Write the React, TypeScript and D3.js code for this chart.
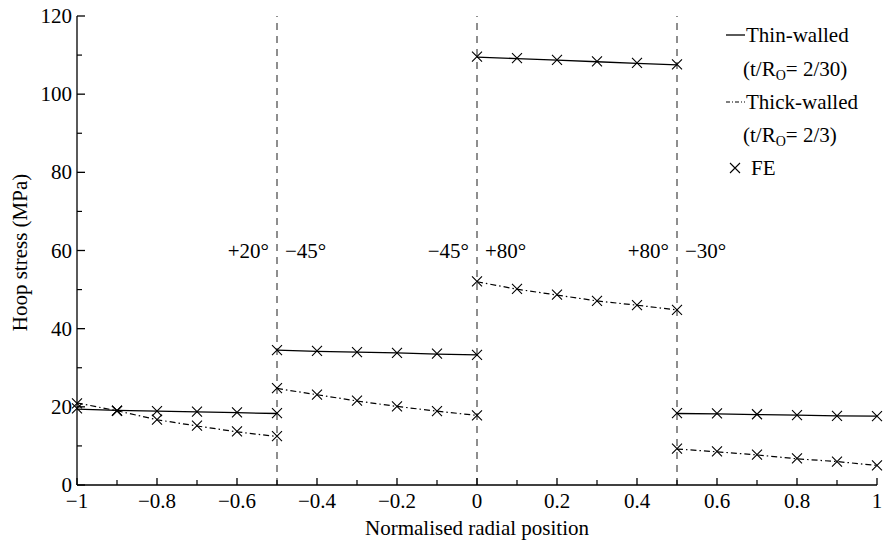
import React from "react";
import * as d3 from "d3";

const positions = [-1, -0.9, -0.8, -0.7, -0.6, -0.5, -0.5, -0.4, -0.3, -0.2, -0.1, 0, 0, 0.1, 0.2, 0.3, 0.4, 0.5, 0.5, 0.6, 0.7, 0.8, 0.9, 1];
const segmentIds = [0, 0, 0, 0, 0, 0, 1, 1, 1, 1, 1, 1, 2, 2, 2, 2, 2, 2, 3, 3, 3, 3, 3, 3];
const thinWalled = [19.4, 19.1, 18.9, 18.7, 18.5, 18.3, 34.5, 34.2, 34.0, 33.8, 33.5, 33.3, 109.5, 109.1, 108.7, 108.3, 107.9, 107.5, 18.3, 18.2, 18.0, 17.9, 17.7, 17.6];
const thickWalled = [21.0, 19.0, 16.7, 15.1, 13.6, 12.4, 24.7, 23.1, 21.5, 20.1, 18.9, 17.8, 52.0, 50.1, 48.6, 47.1, 46.0, 44.8, 9.2, 8.5, 7.7, 6.7, 6.0, 5.0];
const feThin = [19.6, 19.0, 18.9, 18.8, 18.6, 18.4, 34.5, 34.3, 34.0, 33.8, 33.6, 33.3, 109.6, 109.2, 108.8, 108.4, 108.0, 107.6, 18.4, 18.3, 18.1, 17.9, 17.7, 17.6];
const feThick = [20.9, 19.0, 16.7, 15.2, 13.7, 12.5, 24.8, 23.1, 21.6, 20.1, 18.9, 17.8, 52.1, 50.2, 48.7, 47.1, 46.0, 44.8, 9.3, 8.6, 7.8, 6.8, 6.0, 5.0];
const interfaces = [-0.5, 0, 0.5];
const angleLabelsLeft = ["+20°", "−45°", "+80°"];
const angleLabelsRight = ["−45°", "+80°", "−30°"];
const xMajorTicks = [-1, -0.8, -0.6, -0.4, -0.2, 0, 0.2, 0.4, 0.6, 0.8, 1];
const xTickLabels = ["−1", "−0.8", "−0.6", "−0.4", "−0.2", "0", "0.2", "0.4", "0.6", "0.8", "1"];
const xMinorTicks = [-0.9, -0.7, -0.5, -0.3, -0.1, 0.1, 0.3, 0.5, 0.7, 0.9];
const yMajorTicks = [0, 20, 40, 60, 80, 100, 120];
const yMinorTicks = [10, 30, 50, 70, 90, 110];

const FONT = "Liberation Serif";
const FS = "21px";

export default function App() {
  const W = 884, H = 544;
  const x = d3.scaleLinear().domain([-1, 1]).range([77, 877]);
  const y = d3.scaleLinear().domain([0, 120]).range([485, 16]);

  const segs = [0, 1, 2, 3];
  const idx = (s: number) => positions.map((_, i) => i).filter((i) => segmentIds[i] === s);
  const thinLine = d3.line<number>().x((i) => x(positions[i])).y((i) => y(thinWalled[i]));
  const thickLine = d3.line<number>().x((i) => x(positions[i])).y((i) => y(thickWalled[i]));

  const cross = (cx: number, cy: number, k: string) => (
    <path key={k} d={`M${cx - 5},${cy - 5}L${cx + 5},${cy + 5}M${cx - 5},${cy + 5}L${cx + 5},${cy - 5}`} stroke="#000" strokeWidth={1.1} fill="none" />
  );

  return (
    <svg width={W} height={H} style={{ position: "absolute", left: 0, top: 0, background: "#fff" }} fontFamily={FONT} fontSize={FS}>
      {interfaces.map((v, i) => (
        <line key={"if" + i} x1={x(v)} x2={x(v)} y1={y(0)} y2={y(120)} stroke="#444" strokeWidth={1.2} strokeDasharray="7,6" />
      ))}
      <line x1={x(-1)} x2={x(-1)} y1={y(0)} y2={y(120)} stroke="#000" strokeWidth={1.3} />
      <line x1={x(-1)} x2={x(1)} y1={y(0)} y2={y(0)} stroke="#000" strokeWidth={1.3} />
      {yMajorTicks.map((t) => (
        <g key={"ym" + t}>
          <line x1={x(-1)} x2={x(-1) + 8} y1={y(t)} y2={y(t)} stroke="#000" strokeWidth={1.3} />
          <text x={x(-1) - 5} y={y(t) + 7} textAnchor="end" fontFamily={FONT} fontSize={FS}>{t}</text>
        </g>
      ))}
      {yMinorTicks.map((t) => (
        <line key={"yn" + t} x1={x(-1)} x2={x(-1) + 5} y1={y(t)} y2={y(t)} stroke="#000" strokeWidth={1.2} />
      ))}
      {xMajorTicks.map((t, i) => (
        <g key={"xm" + i}>
          <line x1={x(t)} x2={x(t)} y1={y(0)} y2={y(0) - 7} stroke="#000" strokeWidth={1.3} />
          <text x={x(t)} y={y(0) + 23} textAnchor="middle" fontFamily={FONT} fontSize={FS}>{xTickLabels[i]}</text>
        </g>
      ))}
      {xMinorTicks.map((t, i) => (
        <line key={"xn" + i} x1={x(t)} x2={x(t)} y1={y(0)} y2={y(0) - 5} stroke="#000" strokeWidth={1.2} />
      ))}
      <text x={477} y={535} textAnchor="middle" fontFamily={FONT} fontSize={FS}>Normalised radial position</text>
      <text transform={`translate(27,${y(60) + 2}) rotate(-90)`} textAnchor="middle" fontFamily={FONT} fontSize={FS}>Hoop stress (MPa)</text>
      {interfaces.map((v, i) => (
        <g key={"al" + i}>
          <text x={x(v) - 8} y={y(60) + 7} textAnchor="end" fontFamily={FONT} fontSize={FS}>{angleLabelsLeft[i]}</text>
          <text x={x(v) + 8} y={y(60) + 7} textAnchor="start" fontFamily={FONT} fontSize={FS}>{angleLabelsRight[i]}</text>
        </g>
      ))}
      {segs.map((s) => (
        <g key={"seg" + s}>
          <path d={thinLine(idx(s)) || ""} stroke="#000" strokeWidth={1.3} fill="none" />
          <path d={thickLine(idx(s)) || ""} stroke="#000" strokeWidth={1.2} fill="none" strokeDasharray="6,3,1.5,3" />
        </g>
      ))}
      {positions.map((p, i) => cross(x(p), y(feThin[i]), "ft" + i))}
      {positions.map((p, i) => cross(x(p), y(feThick[i]), "fk" + i))}
      <line x1={726} x2={745} y1={35} y2={35} stroke="#000" strokeWidth={1.3} />
      <text x={746} y={42} fontFamily={FONT} fontSize={FS}>Thin-walled</text>
      <text x={743} y={76} fontFamily={FONT} fontSize={FS}>(t/R<tspan fontSize="14px" dy="4">O</tspan><tspan dy="-4">= 2/30)</tspan></text>
      <line x1={726} x2={745} y1={102} y2={102} stroke="#000" strokeWidth={1.1} strokeDasharray="4,2,1,2" />
      <text x={746} y={109} fontFamily={FONT} fontSize={FS}>Thick-walled</text>
      <text x={743} y={142} fontFamily={FONT} fontSize={FS}>(t/R<tspan fontSize="14px" dy="4">O</tspan><tspan dy="-4">= 2/3)</tspan></text>
      {cross(735, 168, "legx")}
      <text x={751} y={175} fontFamily={FONT} fontSize={FS}>FE</text>
    </svg>
  );
}
